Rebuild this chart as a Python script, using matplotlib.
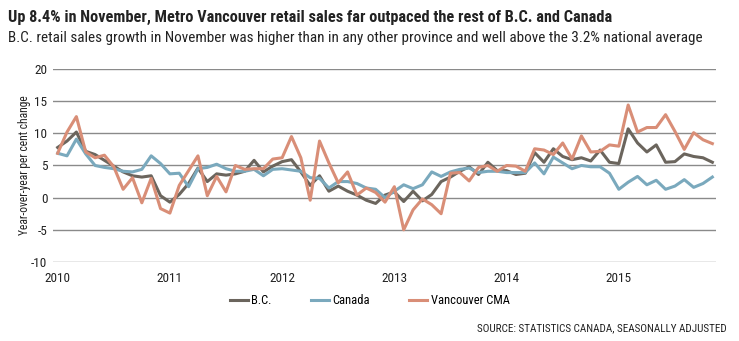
import matplotlib
matplotlib.use("Agg")
from matplotlib import pyplot as plt
from matplotlib import font_manager
import numpy as np

# monthly year-over-year retail sales change, Jan 2010 - Nov 2015
bc = [7.8, 8.8, 10.2, 7.2, 6.7, 5.8, 4.9, 4.0, 3.4, 3.2, 3.4, 0.3,
      -0.7, 0.5, 2.2, 4.6, 2.5, 3.7, 3.5, 3.7, 4.1, 5.8, 4.0, 4.9,
      5.6, 5.9, 4.0, 1.9, 3.4, 1.0, 1.8, 1.0, 0.4, -0.4, -0.9, 0.4,
      0.9, -0.6, 1.0, -0.5, 0.5, 2.5, 3.2, 4.1, 4.8, 3.6, 5.5, 4.2,
      4.2, 3.6, 3.8, 7.0, 5.5, 7.6, 6.4, 5.9, 6.2, 5.7, 7.4, 5.5,
      5.3, 10.7, 8.5, 7.1, 8.2, 5.5, 5.6, 6.8, 6.4, 6.2, 5.5]
canada = [6.9, 6.5, 9.1, 6.8, 5.0, 4.7, 4.5, 4.1, 4.0, 4.4, 6.5, 5.3,
          3.7, 3.8, 1.7, 4.5, 4.7, 5.2, 4.5, 4.1, 4.1, 4.4, 3.4, 4.4,
          4.5, 4.3, 4.1, 3.1, 3.0, 1.5, 2.5, 2.5, 2.2, 1.5, 1.3, 0.0,
          1.0, 2.0, 1.4, 2.0, 4.0, 3.3, 4.0, 4.4, 4.6, 3.9, 4.1, 4.1,
          3.9, 3.9, 3.9, 5.4, 3.7, 6.3, 5.4, 4.5, 5.0, 4.8, 4.8, 3.8,
          1.3, 2.4, 3.3, 2.0, 2.7, 1.3, 1.8, 2.8, 1.6, 2.2, 3.2]
vancouver = [6.9, 10.2, 12.6, 7.1, 6.2, 6.6, 4.8, 1.3, 3.1, -0.8, 3.0, -1.7,
             -2.4, 1.9, 4.2, 6.5, 0.3, 3.3, 0.9, 5.0, 4.4, 4.5, 4.5, 6.0,
             6.2, 9.5, 6.2, -0.4, 8.8, 5.4, 2.3, 4.0, 0.4, 1.5, 0.8, -0.7,
             1.7, -5.0, -1.9, -0.2, -1.1, -2.5, 3.8, 3.9, 2.6, 4.7, 5.0, 4.1,
             5.0, 4.9, 4.1, 7.6, 7.4, 6.7, 8.5, 6.0, 9.6, 7.1, 7.2, 8.2,
             8.0, 14.4, 10.2, 10.9, 10.9, 12.9, 10.3, 7.5, 10.1, 9.0, 8.4]
years = ['2010', '2011', '2012', '2013', '2014', '2015']
yticks = [-10, -5, 0, 5, 10, 15, 20]

# narrow sans if there is one, else plain DejaVu
names = set(f.name for f in font_manager.fontManager.ttflist)
fam = 'DejaVu Sans'
for cand in ['Roboto Condensed', 'Barlow Semi Condensed', 'Asap Condensed', 'Archivo Narrow', 'Liberation Sans Narrow']:
    if cand in names:
        fam = cand
        break
plt.rcParams['font.family'] = [fam, 'DejaVu Sans']
plt.rcParams['axes.unicode_minus'] = False

fig = plt.figure(figsize=(7.39, 3.41), dpi=100)
ax = fig.add_axes([0.0717, 0.2317, 0.8973, 0.566])

m = np.arange(len(bc))
ax.plot(m, bc, color='#6b655d', lw=2.2, label='B.C.')
ax.plot(m, canada, color='#7aa9bd', lw=2.2, label='Canada')
ax.plot(m, vancouver, color='#d98e77', lw=2.2, label='Vancouver CMA')

ax.set_xlim(-0.5, 70.4)
ax.set_ylim(-10, 20)
ax.set_yticks(yticks)
ax.set_xticks(np.arange(len(years)) * 12)
ax.set_xticklabels(years)
ax.grid(axis='y', color='#8a8a8a', lw=1.0)
ax.set_axisbelow(True)
for s in ax.spines.values():
    s.set_visible(False)
ax.tick_params(length=0, labelsize=9.5, colors='#222222')
ax.tick_params(axis='x', pad=7)
ax.tick_params(axis='y', pad=4)
ax.set_ylabel('Year-over-year per cent change', fontsize=8.3, color='#222222')
ax.yaxis.set_label_coords(-0.033, 0.5)

fig.text(0.011, 0.935, 'Up 8.4% in November, Metro Vancouver retail sales far outpaced the rest of B.C. and Canada',
         fontsize=11.7, fontweight='bold', color='#222222')
fig.text(0.011, 0.877, 'B.C. retail sales growth in November was higher than in any other province and well above the 3.2% national average',
         fontsize=10.9, color='#222222')

fig.legend(loc='center', bbox_to_anchor=(0.50, 0.118), ncol=3, frameon=False,
           fontsize=9, handlelength=1.45, handletextpad=0.3, columnspacing=3.1)
fig.text(0.984, 0.038, 'SOURCE: STATISTICS CANADA, SEASONALLY ADJUSTED', ha='right', va='center',
         fontsize=8, color='#222222')

fig.savefig('out.png', dpi=100)
